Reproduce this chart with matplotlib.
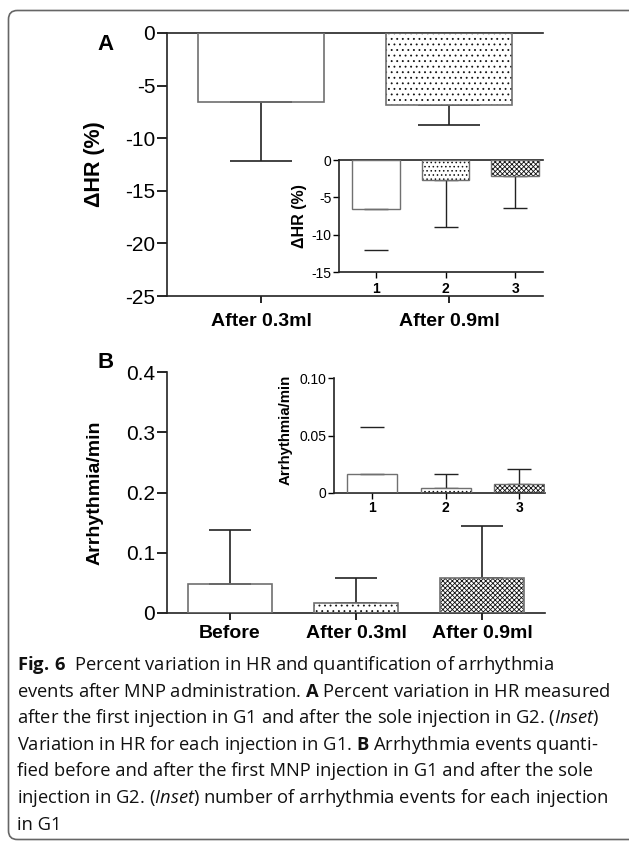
import matplotlib
matplotlib.use("Agg")
import matplotlib.pyplot as plt
from matplotlib.patches import FancyBboxPatch
import numpy as np

plt.rcParams['font.family'] = ['Liberation Sans', 'DejaVu Sans']
plt.rcParams['axes.unicode_minus'] = False
plt.rcParams['hatch.linewidth'] = 0.6
plt.rcParams['mathtext.fontset'] = 'custom'
plt.rcParams['mathtext.rm'] = 'Open Sans'
plt.rcParams['mathtext.bf'] = 'Open Sans:bold'
plt.rcParams['mathtext.it'] = 'Open Sans:italic'

# panel A data (percent change in HR)
a_groups = ["After 0.3ml", "After 0.9ml"]
a_mean = [-6.56, -6.84]
a_sd = [5.61, 1.94]
a_yticks = [0, -5, -10, -15, -20, -25]

# inset A
a_in_labels = ["1", "2", "3"]
a_in_mean = [-6.56, -2.68, -2.2]
a_in_sd = [5.54, 6.3, 4.27]
a_in_yticks = [0, -5, -10, -15]

# panel B data (arrhythmia per minute)
b_groups = ["Before", "After 0.3ml", "After 0.9ml"]
b_mean = [0.0487, 0.017, 0.0576]
b_sd = [0.0893, 0.0406, 0.0874]
b_yticks = [0, 0.1, 0.2, 0.3, 0.4]
b_ytick_labels = ["0", "0.1", "0.2", "0.3", "0.4"]

# inset B
b_in_labels = ["1", "2", "3"]
b_in_mean = [0.0163, 0.0041, 0.0081]
b_in_sd = [0.0407, 0.0124, 0.0128]
b_in_yticks = [0, 0.05, 0.10]
b_in_ytick_labels = ["0", "0.05", "0.10"]

fills = [None, "...", "xxxxxxx"]
fills_in = [None, "....", "xxxxxxx"]

W, H = 629, 841
fig = plt.figure(figsize=(W / 100, H / 100), dpi=100)


def px_axes(l, t, r, b):
    return fig.add_axes([l / W, (H - b) / H, (r - l) / W, (b - t) / H])


def draw_bars(ax, means, sds, hatches, width, capsize, down, hide_first_err=False, lw=1.2):
    x = np.arange(len(means))
    for i in range(len(means)):
        if hatches[i]:
            ax.bar(x[i], means[i], width, color="white", edgecolor="#111111",
                   hatch=hatches[i], linewidth=0, zorder=2)
        ax.bar(x[i], means[i], width, facecolor="none", edgecolor="#707070",
               linewidth=lw, zorder=3)
    zeros = np.zeros(len(means))
    yerr = [np.array(sds), zeros] if down else [zeros, np.array(sds)]
    cont = ax.errorbar(x, means, yerr=yerr, fmt="none", ecolor="#222222",
                       elinewidth=lw, capsize=capsize, capthick=lw, zorder=1)
    if hide_first_err:
        # the first bar of each inset shows only its cap
        seg = cont[2][0].get_segments()
        seg[0] = seg[0][:1]
        cont[2][0].set_segments(seg)
    return x


def style(ax, top=False):
    ax.spines['right'].set_visible(False)
    ax.spines['top'].set_visible(top)
    for s in ['left', 'bottom', 'top']:
        ax.spines[s].set_linewidth(1.2)
        ax.spines[s].set_color("#222222")


# ---------- panel A ----------
axA = px_axes(167, 33, 543, 296)
x = draw_bars(axA, a_mean, a_sd, fills, 0.67, 22, True)
axA.set_xlim(-0.5, 1.5)
axA.set_ylim(-25, 0)
axA.set_yticks(a_yticks)
axA.set_yticklabels([str(v) for v in a_yticks])
axA.set_xticks(x)
axA.set_xticklabels(a_groups, fontweight="bold", fontsize=14)
axA.tick_params(axis='y', labelsize=15, length=7, width=1.2, pad=1.5)
axA.tick_params(axis='x', length=5, width=1.2, pad=7.5)
axA.set_ylabel("ΔHR (%)", fontweight="bold", fontsize=15.5)
axA.yaxis.set_label_coords(-0.165, 0.5)
style(axA, top=True)
fig.text(106 / W, 1 - 44 / H, "A", fontweight="bold", fontsize=16, ha="center", va="center")

axAi = px_axes(339, 160, 543, 272)
xi = draw_bars(axAi, a_in_mean, a_in_sd, fills_in, 0.68, 8.5, True, hide_first_err=True, lw=1.0)
axAi.set_xlim(-0.53, 2.4)
axAi.set_ylim(-15, 0)
axAi.set_yticks(a_in_yticks)
axAi.set_yticklabels([str(v) for v in a_in_yticks])
axAi.set_xticks(xi)
axAi.set_xticklabels(a_in_labels, fontweight="bold", fontsize=10)
axAi.tick_params(axis='both', labelsize=10, length=4, width=1.0, pad=1.5)
axAi.tick_params(axis='x', pad=3)
axAi.set_ylabel("ΔHR (%)", fontweight="bold", fontsize=11.5)
axAi.yaxis.set_label_coords(-0.157, 0.5)
style(axAi, top=True)

# ---------- panel B ----------
axB = px_axes(167, 372, 545, 613)
x = draw_bars(axB, b_mean, b_sd, fills, 0.67, 15, False)
axB.set_xlim(-0.5, 2.5)
axB.set_ylim(0, 0.4)
axB.set_yticks(b_yticks)
axB.set_yticklabels(b_ytick_labels)
axB.set_xticks(x)
axB.set_xticklabels(b_groups, fontweight="bold", fontsize=14)
axB.tick_params(axis='y', labelsize=15, length=7, width=1.2, pad=1.5)
axB.tick_params(axis='x', length=5, width=1.2, pad=3.5)
axB.set_ylabel("Arrhythmia/min", fontweight="bold", fontsize=14)
axB.yaxis.set_label_coords(-0.169, 0.5)
style(axB)
fig.text(106 / W, 1 - 362 / H, "B", fontweight="bold", fontsize=16, ha="center", va="center")

axBi = px_axes(334, 378, 545, 493)
xi = draw_bars(axBi, b_in_mean, b_in_sd, fills_in, 0.68, 8.5, False, hide_first_err=True, lw=1.0)
axBi.set_xlim(-0.52, 2.35)
axBi.set_ylim(0, 0.10)
axBi.set_yticks(b_in_yticks)
axBi.set_yticklabels(b_in_ytick_labels)
axBi.set_xticks(xi)
axBi.set_xticklabels(b_in_labels, fontweight="bold", fontsize=10)
axBi.tick_params(axis='both', labelsize=10, length=4, width=1.0, pad=1.5)
axBi.tick_params(axis='x', pad=2)
axBi.set_ylabel("Arrhythmia/min", fontweight="bold", fontsize=10.8)
axBi.yaxis.set_label_coords(-0.194, 0.548)
style(axBi)

# ---------- caption ----------
caption = [
    r"$\mathbf{Fig.}\,\mathbf{6}$  Percent variation in HR and quantification of arrhythmia",
    r"events after MNP administration. $\mathbf{A}$ Percent variation in HR measured",
    r"after the first injection in G1 and after the sole injection in G2. ($\mathit{Inset}$)",
    r"Variation in HR for each injection in G1. $\mathbf{B}$ Arrhythmia events quanti-",
    r"fied before and after the first MNP injection in G1 and after the sole",
    r"injection in G2. ($\mathit{Inset}$) number of arrhythmia events for each injection",
    r"in G1",
]
for i, line in enumerate(caption):
    fig.text(17 / W, 1 - (665 + i * 26.6) / H, line, family="Open Sans",
             fontsize=13.2, ha="left", va="center", color="#111111")

box = FancyBboxPatch((8.5 / W, 1.5 / H), 3.0, (H - 10.5 - 1.5) / H,
                     boxstyle="round,pad=0,rounding_size=0.014",
                     transform=fig.transFigure, facecolor="none",
                     edgecolor="#666666", linewidth=1.2, mutation_aspect=W / H)
fig.patches.append(box)

fig.savefig("out.png", dpi=100)
